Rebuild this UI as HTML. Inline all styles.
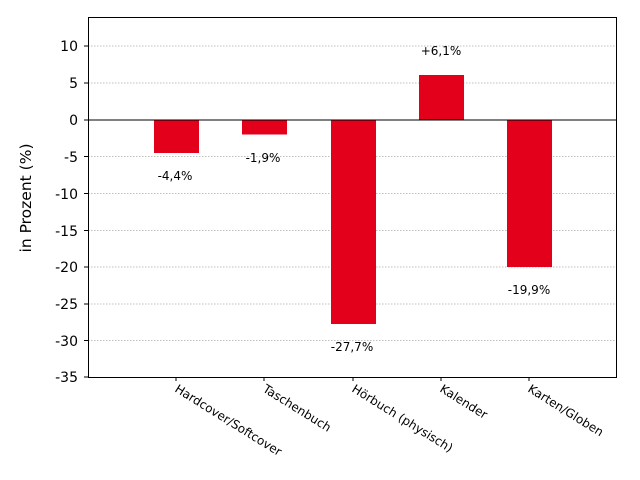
<!DOCTYPE html>
<html><head><meta charset="utf-8"><style>body{margin:0;background:#fff}svg{display:block}</style></head><body>
<svg width="640" height="480" xmlns="http://www.w3.org/2000/svg" font-family="DejaVu Sans, sans-serif">
<g stroke="#aaa" stroke-width="0.8" stroke-dasharray="1.5,1.5">
<line x1="88" x2="616" y1="46" y2="46"/><line x1="88" x2="616" y1="83" y2="83"/>
<line x1="88" x2="616" y1="156.5" y2="156.5"/><line x1="88" x2="616" y1="193.5" y2="193.5"/>
<line x1="88" x2="616" y1="230.5" y2="230.5"/><line x1="88" x2="616" y1="267" y2="267"/>
<line x1="88" x2="616" y1="304" y2="304"/><line x1="88" x2="616" y1="340.5" y2="340.5"/>
</g>
<g fill="#e2001a">
<rect x="154" y="120" width="45" height="33"/>
<rect x="242" y="120" width="45" height="14.5"/>
<rect x="331" y="120" width="45" height="204"/>
<rect x="419" y="75" width="45" height="45"/>
<rect x="507" y="120" width="45" height="147"/>
</g>
<line x1="88" x2="616" y1="120" y2="120" stroke="#000" stroke-width="1"/>
<rect x="88.5" y="17.5" width="528" height="360" fill="none" stroke="#000" stroke-width="1"/>
<g stroke="#000">
<line x1="84" x2="88" y1="46" y2="46"/><line x1="84" x2="88" y1="83" y2="83"/><line x1="84" x2="88" y1="120" y2="120"/>
<line x1="84" x2="88" y1="156.5" y2="156.5"/><line x1="84" x2="88" y1="193.5" y2="193.5"/><line x1="84" x2="88" y1="230.5" y2="230.5"/>
<line x1="84" x2="88" y1="267" y2="267"/><line x1="84" x2="88" y1="304" y2="304"/><line x1="84" x2="88" y1="340.5" y2="340.5"/>
<line x1="84" x2="88" y1="377" y2="377"/>
<line x1="176" x2="176" y1="377" y2="381"/><line x1="264" x2="264" y1="377" y2="381"/><line x1="353" x2="353" y1="377" y2="381"/>
<line x1="441" x2="441" y1="377" y2="381"/><line x1="529" x2="529" y1="377" y2="381"/>
</g>
<g font-size="14" text-anchor="end" fill="#000">
<text x="78" y="51">10</text><text x="78" y="88">5</text><text x="78" y="125">0</text><text x="78" y="162">-5</text>
<text x="78" y="199">-10</text><text x="78" y="236">-15</text><text x="78" y="272">-20</text><text x="78" y="309">-25</text>
<text x="78" y="346">-30</text><text x="78" y="382">-35</text>
</g>
<text transform="translate(31,198) rotate(-90)" font-size="15.5" text-anchor="middle">in Prozent (%)</text>
<g font-size="12" text-anchor="middle">
<text x="175" y="180">-4,4%</text><text x="263" y="162">-1,9%</text><text x="352" y="351">-27,7%</text>
<text x="441" y="55">+6,1%</text><text x="529" y="294">-19,9%</text>
</g>
<g font-size="12">
<text transform="translate(174,391) rotate(32)">Hardcover/Softcover</text>
<text transform="translate(262,391) rotate(32)">Taschenbuch</text>
<text transform="translate(351,391) rotate(32)">Hörbuch (physisch)</text>
<text transform="translate(439,391) rotate(32)">Kalender</text>
<text transform="translate(527,391) rotate(32)">Karten/Globen</text>
</g>
</svg>
</body></html>
